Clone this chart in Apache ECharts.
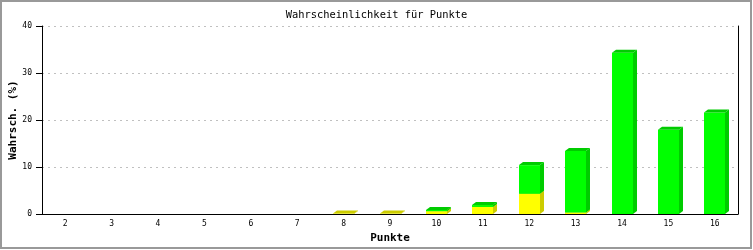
<!DOCTYPE html>
<html>
<head>
<meta charset="utf-8">
<script src="https://cdn.jsdelivr.net/npm/echarts@6/dist/echarts.min.js"></script>
<style>
html,body{margin:0;padding:0;background:#fff;}
#c{width:753px;height:250px;}
</style>
</head>
<body>
<div id="c"></div>
<script>
const categories = ['2','3','4','5','6','7','8','9','10','11','12','13','14','15','16'];
const yellowValues = [0,0,0,0,0,0,0.1,0.1,0.6,1.5,4.3,0.3,0,0,0];
const greenValues  = [0,0,0,0,0,0,0,0,0.25,0.4,6.1,13.1,34.3,17.9,21.6];
const yTicks = [0,10,20,30,40];
const yAxisName = 'Wahrsch. (%)';

const yellowData = yellowValues.map((v,i)=>[i,0,v]);
const greenData = greenValues.map((v,i)=>[i,yellowValues[i],yellowValues[i]+v]);

function make3D(front, dark){
  return function(params, api){
    const idx = api.value(0), lo = api.value(1), hi = api.value(2);
    if (!(hi > lo)) return null;
    const p0 = api.coord([idx, lo]);
    const p1 = api.coord([idx, hi]);
    const bw = api.size([1,0])[0]*0.45;
    const left = Math.round(p0[0]-bw/2), right = left + Math.round(bw);
    const bottom = p0[1], top = p1[1];
    const dx = 4, dy = 3;
    return {
      type:'group',
      children:[
        {type:'rect', shape:{x:left,y:top,width:right-left,height:bottom-top}, style:{fill:front}},
        {type:'polygon', shape:{points:[[right,bottom],[right+dx,bottom-dy],[right+dx,top-dy],[right,top]]}, style:{fill:dark}},
        {type:'polygon', shape:{points:[[left,top],[left+dx,top-dy],[right+dx,top-dy],[right,top]]}, style:{fill:dark}}
      ]
    };
  };
}

const chart = echarts.init(document.getElementById('c'), null, {renderer:'canvas'});
chart.setOption({
  animation:false,
  backgroundColor:'#fff',
  title:{
    text:'Wahrscheinlichkeit für Punkte',
    left:'center', top:5,
    textStyle:{fontFamily:'DejaVu Sans Mono', fontSize:10.4, fontWeight:'normal', color:'#000'}
  },
  graphic:[
    {type:'rect', shape:{x:1,y:1,width:750,height:247}, style:{fill:'none', stroke:'#999', lineWidth:2}, silent:true},
    {type:'text', x:13, y:120, rotation:Math.PI/2, style:{text:yAxisName, font:'bold 11px "DejaVu Sans Mono"', fill:'#000', align:'center', verticalAlign:'middle'}, silent:true}
  ],
  grid:{left:42, right:15, top:26, bottom:36, containLabel:false, outerBoundsMode:'none'},
  xAxis:{
    type:'category', data:categories, boundaryGap:true,
    name:'Punkte', nameLocation:'middle', nameGap:19,
    nameTextStyle:{fontFamily:'DejaVu Sans Mono', fontSize:11, fontWeight:'bold', color:'#000'},
    axisLine:{lineStyle:{color:'#000', width:1}},
    axisTick:{show:false},
    axisLabel:{fontFamily:'DejaVu Sans Mono', fontSize:8, color:'#000', margin:6, interval:0}
  },
  yAxis:[{
    type:'value', min:0, max:40, interval:10,
    axisLine:{show:true, lineStyle:{color:'#000', width:1}},
    axisTick:{show:true, length:6, lineStyle:{color:'#000'}},
    axisLabel:{fontFamily:'DejaVu Sans Mono', fontSize:8, color:'#000', margin:10,
      formatter:v=>yTicks.indexOf(v)>=0?String(v):''},
    splitLine:{show:true, lineStyle:{color:'#c0c0c0', type:[2,4], width:1}}
  },{
    type:'value', min:0, max:40, interval:10, position:'right',
    axisLine:{show:true, lineStyle:{color:'#000', width:1}},
    axisTick:{show:false}, axisLabel:{show:false}, splitLine:{show:false}
  }],
  series:[
    {type:'custom', name:'gelb', renderItem:make3D('#ffff00','#cccc00'), data:yellowData, encode:{x:0,y:[1,2]}, z:2},
    {type:'custom', name:'grün', renderItem:make3D('#00ff00','#00cc00'), data:greenData, encode:{x:0,y:[1,2]}, z:3}
  ]
});
</script>
</body>
</html>
